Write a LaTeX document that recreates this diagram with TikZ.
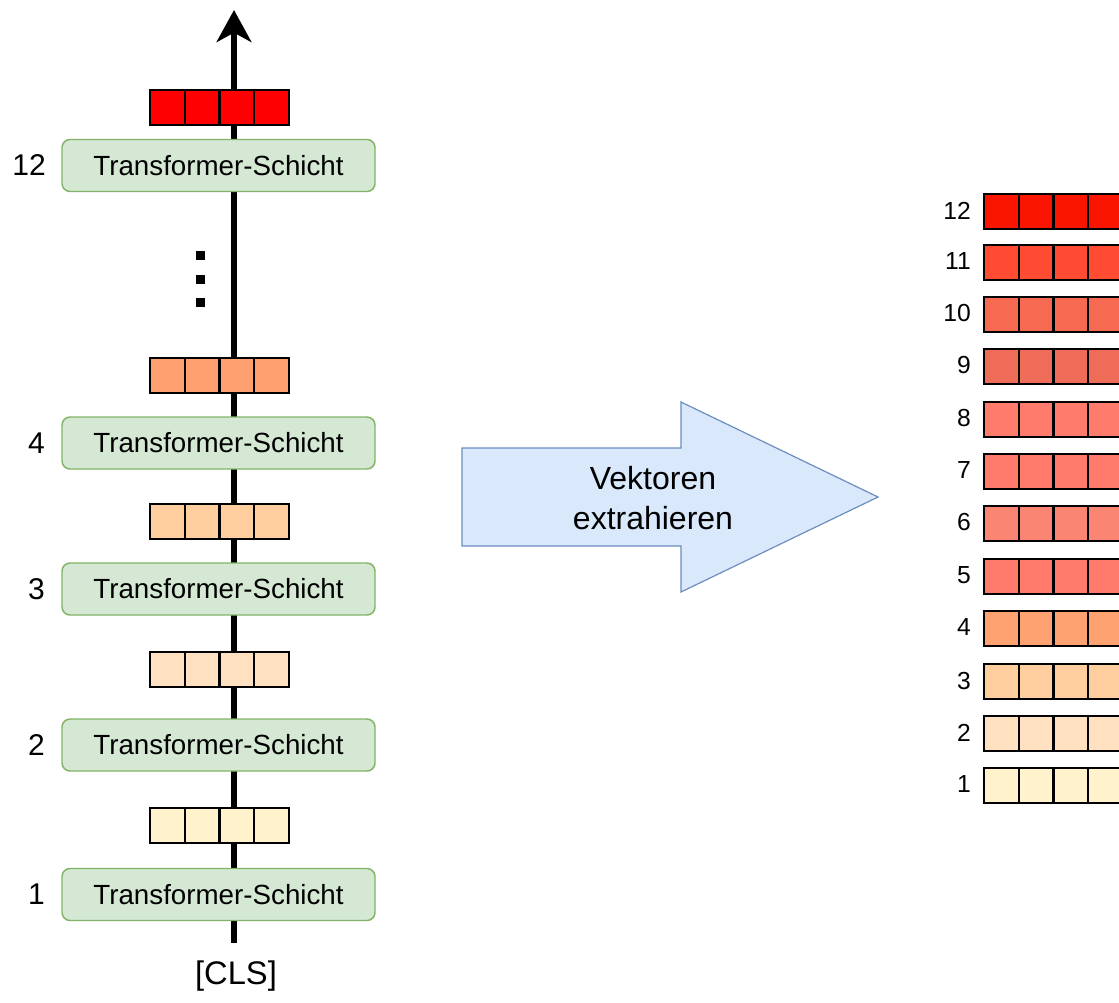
\documentclass[tikz,border=0pt]{standalone}
\usepackage{fontspec}
\setmainfont{Liberation Sans}
\usetikzlibrary{arrows.meta}
\definecolor{tfill}{HTML}{D5E8D4}
\definecolor{tdraw}{HTML}{82B366}
\definecolor{afill}{HTML}{DAE8FC}
\definecolor{adraw}{HTML}{6C8EBF}
\definecolor{cA}{HTML}{FF0000}
\definecolor{cB}{HTML}{FFA070}
\definecolor{cC}{HTML}{FFCE9F}
\definecolor{cD}{HTML}{FFE0C0}
\definecolor{cE}{HTML}{FFF2CC}
\definecolor{r12}{HTML}{FA1500}
\definecolor{r11}{HTML}{FE4B32}
\definecolor{r10}{HTML}{F56A50}
\definecolor{r9}{HTML}{EF6C58}
\definecolor{r8}{HTML}{FF7B6B}
\definecolor{r7}{HTML}{FF7A6A}
\definecolor{r6}{HTML}{FA8572}
\definecolor{r5}{HTML}{FF7A6A}
\definecolor{r4}{HTML}{FFA272}
\definecolor{r3}{HTML}{FFCE9E}
\definecolor{r2}{HTML}{FFE0C0}
\definecolor{r1}{HTML}{FFF2CC}
\tikzset{
  cell/.style={draw=black, line width=1.5pt, minimum width=26pt, minimum height=26.25pt, inner sep=0pt, anchor=north west},
  tlayer/.style={draw=tdraw, fill=tfill, line width=1.1pt, rounded corners=6pt, minimum width=234.75pt, minimum height=39pt, inner sep=0pt, font=\fontsize{20.8pt}{24pt}\selectfont},
  leftlab/.style={anchor=east, inner sep=0pt, font=\fontsize{22.5pt}{26pt}\selectfont},
  rightlab/.style={anchor=east, inner sep=0pt, font=\fontsize{18.5pt}{22pt}\selectfont},
  dotsq/.style={fill=black, minimum size=6.75pt, inner sep=0pt},
}
\newcommand{\vecrow}[4]{%
  \foreach \k in {0,1,2,3}{%
    \node[cell, fill=#4] (#1-\k) at ({#2+\k*34.8}, #3) {};
  }%
}
\begin{document}
\begin{tikzpicture}[x=0.75pt, y=-0.75pt]
\path[use as bounding box] (0,0) rectangle (1119,1002);
\clip (0,0) rectangle (1119,1002);
% main flow line
\coordinate (bot) at (234,943);
\coordinate (top) at (234,10);
\draw[line width=4.5pt, -{Stealth[length=24pt, width=26pt, inset=7pt]}] (bot) -- (top);
% transformer layers
\node[tlayer] (t12) at (218.5,165.5) {Transformer-Schicht};
\node[tlayer] (t4) at (218.5,443) {Transformer-Schicht};
\node[tlayer] (t3) at (218.5,589) {Transformer-Schicht};
\node[tlayer] (t2) at (218.5,745) {Transformer-Schicht};
\node[tlayer] (t1) at (218.5,894.5) {Transformer-Schicht};
\node[leftlab] (l12) at (46,165.5) {12};
\node[leftlab] (l4) at (45,443) {4};
\node[leftlab] (l3) at (45,589) {3};
\node[leftlab] (l2) at (45,745) {2};
\node[leftlab] (l1) at (45,894.5) {1};
% left vectors
\vecrow{va}{149}{89}{cA}
\vecrow{vb}{149}{357}{cB}
\vecrow{vc}{149}{502.5}{cC}
\vecrow{vd}{149}{650.5}{cD}
\vecrow{ve}{149}{806.5}{cE}
% dots
\node[dotsq] (d1) at (200.5,255) {};
\node[dotsq] (d2) at (200.5,279) {};
\node[dotsq] (d3) at (200.5,302.5) {};
% CLS
\node[inner sep=0pt, font=\fontsize{24.5pt}{28pt}\selectfont] (cls) at (236,976) {[CLS]};
% big arrow
\draw[draw=adraw, fill=afill, line width=0.9pt] (462,448) -- (681,448) -- (681,402) -- (878,497) -- (681,592) -- (681,546) -- (462,546) -- cycle;
\node[align=center, font=\fontsize{24pt}{30pt}\selectfont] (arrowtext) at (653,498) {Vektoren\\extrahieren};
% right vectors
\foreach \n/\y in {12/193,11/243.5,10/296,9/348,8/401,7/453,6/505,5/557.5,4/610,3/663,2/715,1/767}{%
  \vecrow{r\n}{983}{\y}{r\n}
  \node[rightlab] (rl\n) at (971,{\y+17.5}) {\n};
}
\end{tikzpicture}
\end{document}
